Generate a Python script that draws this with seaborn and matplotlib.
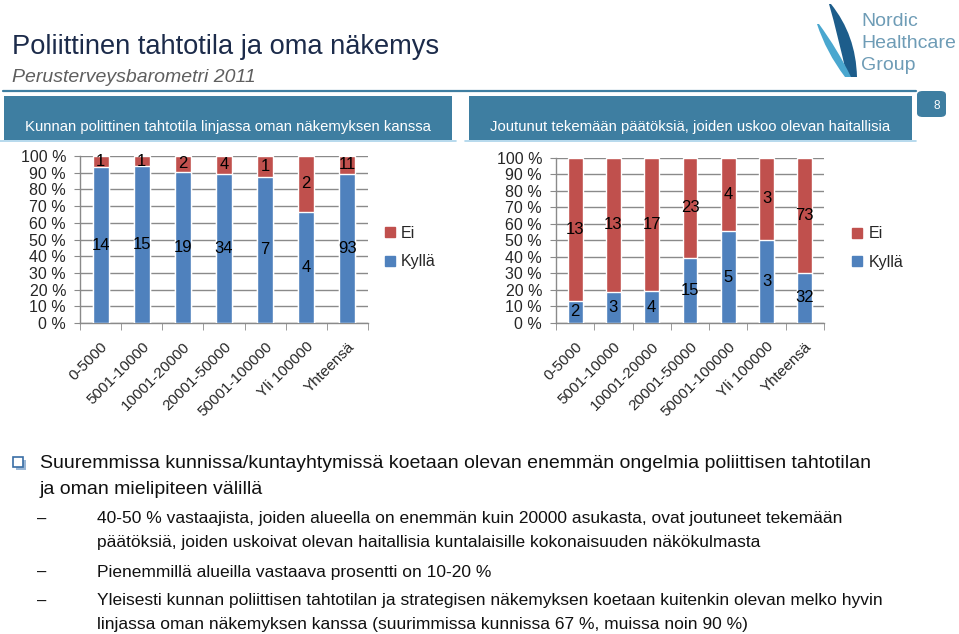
import matplotlib
matplotlib.use("Agg")
import matplotlib.pyplot as plt
from matplotlib.patches import Rectangle, FancyBboxPatch, PathPatch
from matplotlib.path import Path
from matplotlib.lines import Line2D
import seaborn as sns
import pandas as pd
import numpy as np

# ---------------- data ----------------
categories = ["0-5000", "5001-10000", "10001-20000", "20001-50000",
              "50001-100000", "Yli 100000", "Yhteensä"]
left_kylla = [14, 15, 19, 34, 7, 4, 93]
left_ei = [1, 1, 2, 4, 1, 2, 11]
right_kylla = [2, 3, 4, 15, 5, 3, 32]
right_ei = [13, 13, 17, 23, 4, 3, 73]
series_names = ["Ei", "Kyllä"]
ytick_values = [0, 10, 20, 30, 40, 50, 60, 70, 80, 90, 100]

title = "Poliittinen tahtotila ja oma näkemys"
subtitle = "Perusterveysbarometri 2011"
left_header = "Kunnan polittinen tahtotila linjassa oman näkemyksen kanssa"
right_header = "Joutunut tekemään päätöksiä, joiden uskoo olevan haitallisia"
bullet_main = ["Suuremmissa kunnissa/kuntayhtymissä koetaan olevan enemmän ongelmia poliittisen tahtotilan",
               "ja oman mielipiteen välillä"]
sub_bullets = [
    ["40-50 % vastaajista, joiden alueella on enemmän kuin 20000 asukasta, ovat joutuneet tekemään",
     "päätöksiä, joiden uskoivat olevan haitallisia kuntalaisille kokonaisuuden näkökulmasta"],
    ["Pienemmillä alueilla vastaava prosentti on 10-20 %"],
    ["Yleisesti kunnan poliittisen tahtotilan ja strategisen näkemyksen koetaan kuitenkin olevan melko hyvin",
     "linjassa oman näkemyksen kanssa (suurimmissa kunnissa 67 %, muissa noin 90 %)"],
]

# ---------------- style ----------------
sns.set_style("white")
plt.rcParams["font.family"] = ["Liberation Sans", "DejaVu Sans"]

RED = "#c0504d"
BLUE = "#4f81bd"
HEAD = "#3e7ea1"
GRID = "#8a8a8a"

W, H = 959, 634
fig = plt.figure(figsize=(W / 100, H / 100), dpi=100)
fig.patch.set_facecolor("white")


def fx(x):
    return x / W


def fy(y):
    return 1 - y / H


def axes_px(x0, y0, x1, y1):
    return fig.add_axes([fx(x0), fy(y1), (x1 - x0) / W, (y1 - y0) / H])


def draw_chart(ax, kylla, ei, legend_x):
    k = np.array(kylla, float)
    e = np.array(ei, float)
    tot = k + e
    df = pd.DataFrame({"cat": categories,
                       "total": tot / tot * 100,
                       "kylla": k / tot * 100})
    sns.barplot(data=df, x="cat", y="total", color=RED, saturation=1,
                width=0.39, ax=ax, errorbar=None, zorder=3)
    sns.barplot(data=df, x="cat", y="kylla", color=BLUE, saturation=1,
                width=0.39, ax=ax, errorbar=None, zorder=3)
    for i in range(len(categories)):
        kp = df["kylla"][i]
        ax.text(i, kp / 2, f"{int(k[i])}", ha="center", va="center",
                fontsize=12, color="black", zorder=5)
        ax.text(i, kp + (100 - kp) / 2, f"{int(e[i])}", ha="center",
                va="center", fontsize=12, color="black", zorder=5)
    ax.set_ylim(0, 100)
    ax.set_xlim(-0.5, len(categories) - 0.5)
    ax.set_yticks(ytick_values)
    ax.set_yticklabels([f"{v} %" for v in ytick_values], fontsize=11.5)
    ax.yaxis.grid(True, color=GRID, lw=1)
    ax.xaxis.grid(False)
    ax.set_axisbelow(True)
    ax.set_xlabel("")
    ax.set_ylabel("")
    for s in ["top", "right"]:
        ax.spines[s].set_visible(False)
    for s in ["left", "bottom"]:
        ax.spines[s].set_color(GRID)
        ax.spines[s].set_linewidth(1)
    ax.tick_params(axis="y", length=4, color=GRID, pad=6, left=True)
    ax.set_xticks(range(len(categories)))
    ax.set_xticklabels(categories, rotation=45, ha="right",
                       rotation_mode="anchor", fontsize=11)
    ax.tick_params(axis="x", which="major", length=0, pad=12)
    ax.set_xticks(np.arange(-0.5, len(categories), 1.0), minor=True)
    ax.tick_params(axis="x", which="minor", length=5, color=GRID,
                   bottom=True)
    handles = [Line2D([], [], marker="s", ls="", color=RED, markersize=7),
               Line2D([], [], marker="s", ls="", color=BLUE, markersize=7)]
    ax.legend(handles, series_names, loc="center left",
              bbox_to_anchor=(legend_x, 0.452), frameon=False, fontsize=11.5,
              handlelength=0.7, handletextpad=0.35, labelspacing=0.85,
              borderaxespad=0)


axL = axes_px(80, 156, 368, 323)
draw_chart(axL, left_kylla, left_ei, 1.035)
axR = axes_px(556, 157.5, 824, 323)
draw_chart(axR, right_kylla, right_ei, 1.08)

# ---------------- slide decorations ----------------
fig.text(fx(12), fy(47), title, fontsize=19.6, color="#1c2b4a",
         ha="left", va="center")
fig.text(fx(12), fy(78), subtitle, fontsize=14, color="#5f5f5f",
         style="italic", ha="left", va="center")
fig.add_artist(Line2D([fx(3), fx(916)], [fy(91), fy(91)],
                      transform=fig.transFigure, color=HEAD, lw=1.6))

for x0, x1, txt in [(4, 452, left_header), (469, 912, right_header)]:
    fig.add_artist(Rectangle((fx(x0), fy(140)), (x1 - x0) / W, 43.5 / H,
                             transform=fig.transFigure, color=HEAD, lw=0))
    fig.add_artist(Line2D([fx(x0 - 4), fx(x1 + 4)], [fy(141), fy(141)],
                          transform=fig.transFigure, color="#aad3ea", lw=1.2))
    fig.text(fx((x0 + x1) / 2), fy(127), txt, fontsize=10.7, color="white",
             ha="center", va="center")

fig.add_artist(FancyBboxPatch((fx(917), fy(117)), 29 / W, 26 / H,
                              boxstyle="round,pad=0,rounding_size=0.006",
                              transform=fig.transFigure, color=HEAD, lw=0))
fig.text(fx(937), fy(106), "8", fontsize=8.5, color="white",
         ha="center", va="center")

# logo
for ln, yy in zip(["Nordic", "Healthcare", "Group"], [21, 43, 65]):
    fig.text(fx(861), fy(yy), ln, fontsize=14, color="#6e9cb6",
             ha="left", va="center")


def leaf(pts, color):
    verts = [(fx(x), fy(y)) for x, y in pts]
    codes = [Path.MOVETO, Path.CURVE3, Path.CURVE3, Path.LINETO,
             Path.CURVE3, Path.CURVE3, Path.CLOSEPOLY]
    verts.append(verts[0])
    fig.add_artist(PathPatch(Path(verts, codes), transform=fig.transFigure,
                             color=color, lw=0))


leaf([(847, 77), (838, 35), (829, 4), (831, 4), (856, 35), (857, 77)], "#1d5d8b")
leaf([(845, 77), (826, 52), (817, 24), (819, 24), (838, 50), (851, 77)], "#4aa7cf")

# bullets
fig.add_artist(Rectangle((fx(15.5), fy(469.5)), 10 / W, 10 / H,
                         transform=fig.transFigure, color="#9ab7d6", lw=0))
fig.add_artist(Rectangle((fx(13), fy(467)), 10 / W, 10 / H,
                         transform=fig.transFigure, facecolor="white",
                         edgecolor="#3a6ea5", lw=1.2))
fig.text(fx(40), fy(463), bullet_main[0], fontsize=14, color="#111111",
         ha="left", va="center")
fig.text(fx(40), fy(489), bullet_main[1], fontsize=14, color="#111111",
         ha="left", va="center")

sub_y = [[519, 543], [572], [601, 624]]
for lines, ys in zip(sub_bullets, sub_y):
    fig.text(fx(37), fy(ys[0]), "–", fontsize=12, color="#111111",
             ha="left", va="center")
    for ln, yy in zip(lines, ys):
        fig.text(fx(97), fy(yy), ln, fontsize=12.5, color="#111111",
                 ha="left", va="center")

fig.savefig("out.png", dpi=100)
